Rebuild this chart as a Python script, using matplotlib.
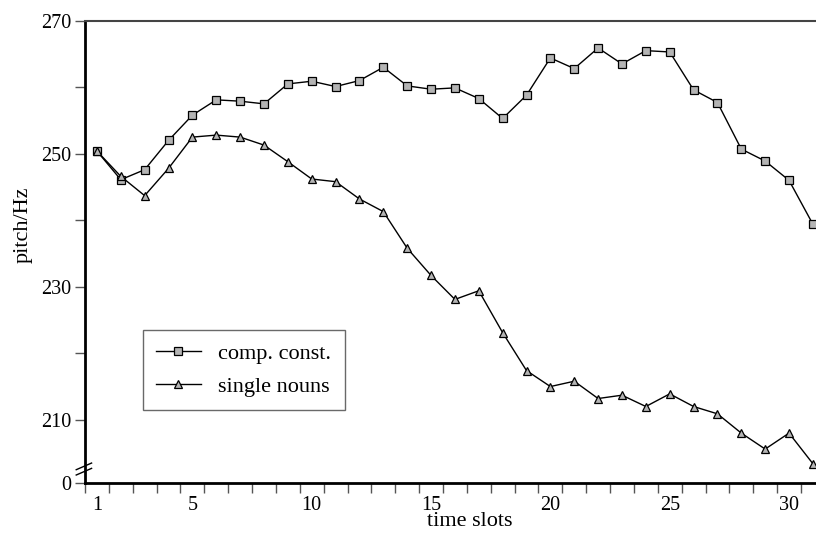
import numpy as np
import matplotlib
matplotlib.use('Agg')
import matplotlib.pyplot as plt
import matplotlib.transforms as mtransforms

plt.rcParams['font.family'] = ['Liberation Serif', 'DejaVu Serif']

# time slots 1..31
slots = np.arange(1, 32)

# pitch values (Hz)
comp_const = [250.4, 246.1, 247.6, 252.0, 255.8, 258.1, 257.9, 257.5, 260.5, 260.9,
              260.1, 261.0, 263.0, 260.2, 259.7, 259.9, 258.3, 255.3, 258.8, 264.4,
              262.8, 265.9, 263.5, 265.5, 265.3, 259.6, 257.7, 250.7, 248.9, 246.0,
              239.4]
single_nouns = [250.4, 246.6, 243.7, 247.8, 252.5, 252.8, 252.5, 251.3, 248.8, 246.2,
                245.8, 243.2, 241.3, 235.8, 231.7, 228.1, 229.4, 223.1, 217.4, 215.0,
                215.8, 213.2, 213.7, 212.0, 213.9, 212.0, 210.9, 208.0, 205.6, 208.0,
                203.4]

xtick_labels = [1, 5, 10, 15, 20, 25, 30]
ytick_labels = ['0', '210', '230', '250', '270']

# the "0" is drawn just below the break, not on the real scale
zero_pos = 200.5
ytick_pos = [zero_pos, 210, 230, 250, 270]

fig = plt.figure(figsize=(8.16, 5.33), dpi=100)
ax = fig.add_axes([85 / 816, 1 - 483 / 533, 1 - 85 / 816, (483 - 20.7) / 533])

mk = dict(markerfacecolor='#b4b4b4', markeredgecolor='black', markeredgewidth=0.9,
          color='black', linewidth=1.0, markersize=5.8)
ax.plot(slots, comp_const, marker='s', label='comp. const.', **mk)
ax.plot(slots, single_nouns, marker='^', label='single nouns', **mk)

ax.set_xlim(0.5, 31.13)
ax.set_ylim(zero_pos, 270)

# x: tick marks between slots, labels on slots
ax.set_xticks(xtick_labels)
ax.set_xticklabels([str(v) for v in xtick_labels])
ax.set_xticks(slots - 0.5, minor=True)
ax.tick_params(axis='x', which='major', length=0, pad=9)
ax.tick_params(axis='x', which='minor', length=7, width=1, color='#555555')

ax.set_yticks(ytick_pos)
ax.set_yticklabels(ytick_labels)
ax.set_yticks([220, 240, 260], minor=True)
ax.tick_params(axis='y', which='both', length=7, width=1, color='#555555', pad=3)
ax.tick_params(labelsize=14.5)

ax.spines['right'].set_visible(False)
ax.spines['left'].set_linewidth(2)
ax.spines['bottom'].set_linewidth(2)
ax.spines['top'].set_linewidth(1.5)
ax.spines['top'].set_color('#444444')

# axis break marks on the y axis
trans = mtransforms.blended_transform_factory(ax.transAxes, ax.transData)
for yb in (202.2, 203.0):
    ax.plot([-0.012, 0.009], [yb - 0.5, yb + 0.5], color='black', lw=1,
            transform=trans, clip_on=False)

ax.set_xlabel('time slots', fontsize=16)
ax.xaxis.set_label_coords(0.527, -0.062)
ax.set_ylabel('pitch/Hz', fontsize=16)
ax.yaxis.set_label_coords(-0.072, 0.558)

leg = ax.legend(loc='upper left', bbox_to_anchor=(0.079, 0.331), borderaxespad=0,
                fontsize=16, frameon=True, fancybox=False, handlelength=2.0,
                borderpad=0.6, labelspacing=0.55, handletextpad=0.8)
leg.get_frame().set_edgecolor('#444444')
leg.get_frame().set_linewidth(1.0)

plt.savefig('out.png', dpi=100)
